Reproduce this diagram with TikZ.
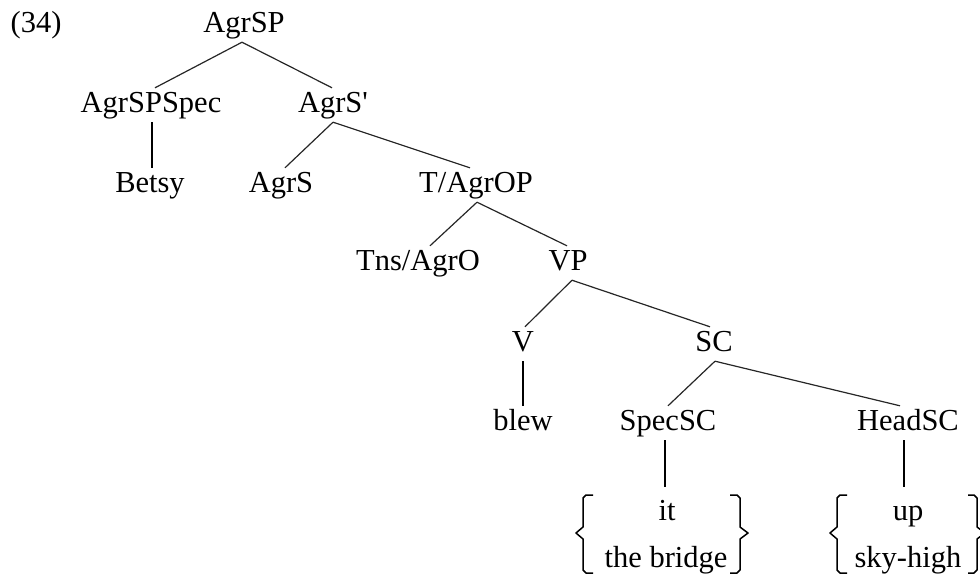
\documentclass[tikz,border=0pt]{standalone}
\usepackage{fontspec}
\setmainfont{Liberation Serif}
\tikzset{
  tn/.style={font=\fontsize{30.5}{36}\selectfont, inner xsep=0pt, inner ysep=4pt,
    text height=20pt, text depth=6pt, anchor=base},
  branch/.style={draw=black!85, line width=1.2pt},
  stem/.style={draw=black, line width=1.6pt},
  bracepath/.style={draw=black, line width=1.5pt, line join=round}
}
\begin{document}
\begin{tikzpicture}[x=1pt,y=-1pt]
\useasboundingbox (0,0) rectangle (980,576);
% nodes
\node[tn] (ex) at (36,32) {(34)};
\node[tn] (agrsp) at (244,32) {AgrSP};
\node[tn] (spec) at (151,112) {AgrSPSpec};
\node[tn] (agrsbar) at (333,112) {AgrS\textquotesingle};
\node[tn] (betsy) at (150,192) {Betsy};
\node[tn] (agrs) at (281,192) {AgrS};
\node[tn] (tagrop) at (476,192) {T/AgrOP};
\node[tn] (tns) at (418,270) {Tns/AgrO};
\node[tn] (vp) at (568,270) {VP};
\node[tn] (v) at (523,351) {V};
\node[tn] (sc) at (714,351) {SC};
\node[tn] (blew) at (523,430) {blew};
\node[tn] (specsc) at (668,430) {SpecSC};
\node[tn] (headsc) at (908,430) {HeadSC};
\node[tn] (it) at (667,520) {it};
\node[tn] (bridge) at (666,567) {the bridge};
\node[tn] (up) at (908,520) {up};
\node[tn] (sky) at (908,567) {sky-high};
% branches
\draw[branch] ([xshift=-2pt]agrsp.south) -- ([xshift=4pt]spec.north);
\draw[branch] ([xshift=-2pt]agrsp.south) -- ([xshift=-1pt]agrsbar.north);
\draw[stem] ([xshift=1pt]spec.south) -- ([xshift=2pt]betsy.north);
\draw[branch] (agrsbar.south) -- ([xshift=4pt]agrs.north);
\draw[branch] (agrsbar.south) -- ([xshift=-6pt]tagrop.north);
\draw[branch] ([xshift=1pt]tagrop.south) -- ([xshift=12pt]tns.north);
\draw[branch] ([xshift=1pt]tagrop.south) -- ([xshift=-1pt]vp.north);
\draw[branch] ([xshift=4pt]vp.south) -- ([xshift=2pt]v.north);
\draw[branch] ([xshift=4pt]vp.south) -- ([xshift=-4pt]sc.north);
\draw[stem] (v.south) -- (blew.north);
\draw[branch] ([xshift=1pt]sc.south) -- (specsc.north);
\draw[branch] ([xshift=1pt]sc.south) -- ([xshift=-8pt]headsc.north);
\draw[stem] ([xshift=-3pt]specsc.south) -- ([xshift=-2pt,yshift=9pt]it.north);
\draw[stem] ([xshift=-4pt]headsc.south) -- ([xshift=-4pt,yshift=9pt]up.north);
% braces
\draw[bracepath] (593,495) -- (586,495) -- (583,498) -- (583,527) -- (576,533) -- (583,539) -- (583,570) -- (586,573) -- (593,573);
\draw[bracepath] (730,495) -- (737,495) -- (740,498) -- (740,527) -- (748,533) -- (740,539) -- (740,570) -- (737,573) -- (730,573);
\draw[bracepath] (847,495) -- (840,495) -- (837,498) -- (837,527) -- (830,533) -- (837,539) -- (837,570) -- (840,573) -- (847,573);
\draw[bracepath] (968,495) -- (974,495) -- (977,498) -- (977,527) -- (985,533) -- (977,539) -- (977,570) -- (974,573) -- (968,573);
\end{tikzpicture}
\end{document}
